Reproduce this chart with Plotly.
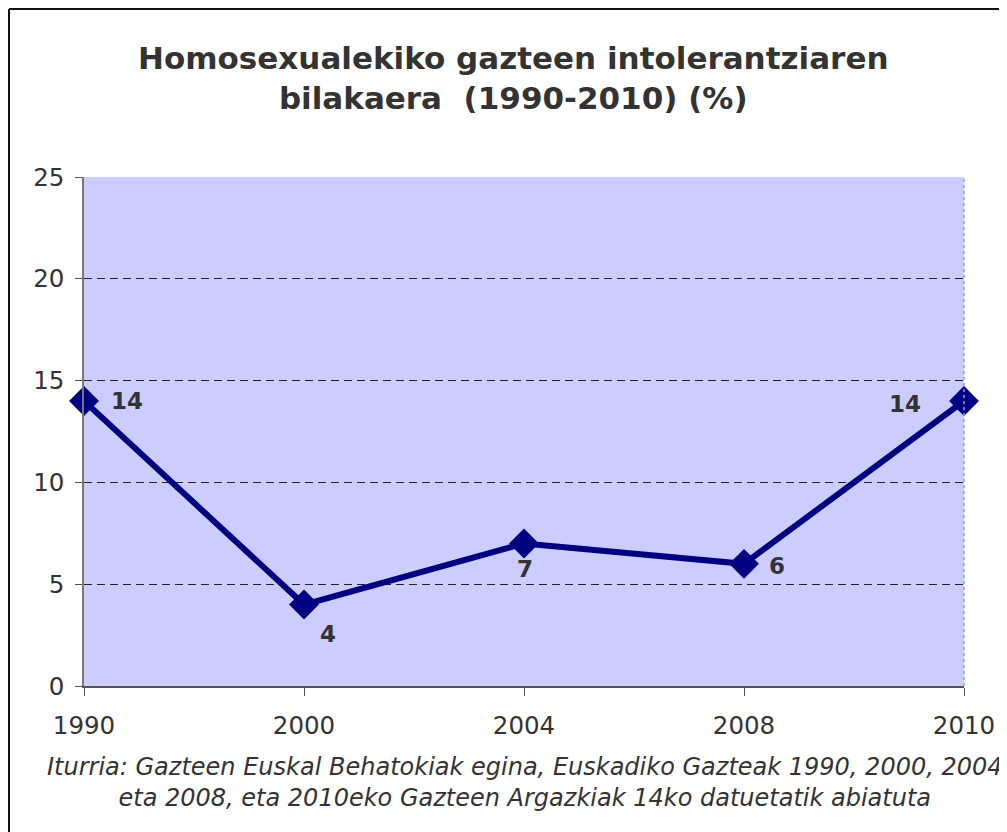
import plotly.graph_objects as go

years = ["1990", "2000", "2004", "2008", "2010"]
values = [14, 4, 7, 6, 14]
y_ticks = [0, 5, 10, 15, 20, 25]
label_shift_x = [43, 24, 1, 33, -59]
label_shift_y = [0, -29, -26, -2, -3]

title = "<b>Homosexualekiko gazteen intolerantziaren<br>bilakaera  (1990-2010) (%)</b>"
source = ("<i>Iturria: Gazteen Euskal Behatokiak egina, Euskadiko Gazteak 1990, 2000, 2004<br>"
          "eta 2008, eta 2010eko Gazteen Argazkiak 14ko datuetatik abiatuta</i>")

OFF = 8  # page body margin
W, H = 999, 824
L, T = 76, 169
pw, ph = 880, 509
R = W - L - pw
B = H - T - ph

def px(x):
    return (x - OFF - L) / pw

def py(y):
    return (H - B - (y - OFF)) / ph

fig = go.Figure()
fig.add_trace(go.Scatter(
    x=years, y=values, mode="lines+markers",
    line=dict(color="#000080", width=6),
    marker=dict(symbol="diamond", size=23, color="#000080"),
    cliponaxis=False, hoverinfo="skip", showlegend=False,
))

for i, (v, dx, dy) in enumerate(zip(values, label_shift_x, label_shift_y)):
    fig.add_annotation(x=i, y=v, text=f"<b>{v}</b>", showarrow=False,
                       xshift=dx, yshift=dy,
                       font=dict(family="DejaVu Sans", size=23, color="#333333"))

fig.add_annotation(xref="paper", yref="paper", x=px(513), y=py(78), text=title,
                   showarrow=False, xanchor="center", yanchor="middle",
                   font=dict(family="DejaVu Sans", size=31, color="#333333"))
fig.add_annotation(xref="paper", yref="paper", x=px(525), y=py(782), text=source,
                   showarrow=False, xanchor="center", yanchor="middle",
                   font=dict(family="DejaVu Sans", size=24, color="#333333"))

# chart frame (left and top)
fig.add_shape(type="line", xref="paper", yref="paper", x0=px(9), x1=px(1020),
              y0=py(9), y1=py(9), line=dict(color="#111111", width=2))
fig.add_shape(type="line", xref="paper", yref="paper", x0=px(9), x1=px(9),
              y0=py(9), y1=py(850), line=dict(color="#111111", width=2))
# dotted right plot border
fig.add_shape(type="line", xref="paper", yref="paper", x0=1, x1=1, y0=0, y1=1,
              line=dict(color="#9999DD", width=1.5, dash="dot"))

fig.update_layout(
    width=W, height=H,
    margin=dict(l=L, r=R, t=T, b=B),
    paper_bgcolor="white", plot_bgcolor="#CCCCFF",
    xaxis=dict(type="category", range=[0, 4], showgrid=False,
               showline=True, linecolor="#555555", linewidth=1.5,
               ticks="outside", ticklen=8, tickcolor="#555555",
               tickfont=dict(family="DejaVu Sans", size=24.5, color="#333333"),
               ticklabelstandoff=9, zeroline=False),
    yaxis=dict(range=[0, 25], tickvals=y_ticks, showgrid=True,
               gridcolor="#222222", griddash="8px,5px", gridwidth=1,
               showline=True, linecolor="#777777", linewidth=1.5,
               ticks="outside", ticklen=7, tickcolor="#555555",
               tickfont=dict(family="DejaVu Sans", size=24.5, color="#333333"),
               ticklabelstandoff=6, zeroline=False),
)

fig.write_html("out.html")
